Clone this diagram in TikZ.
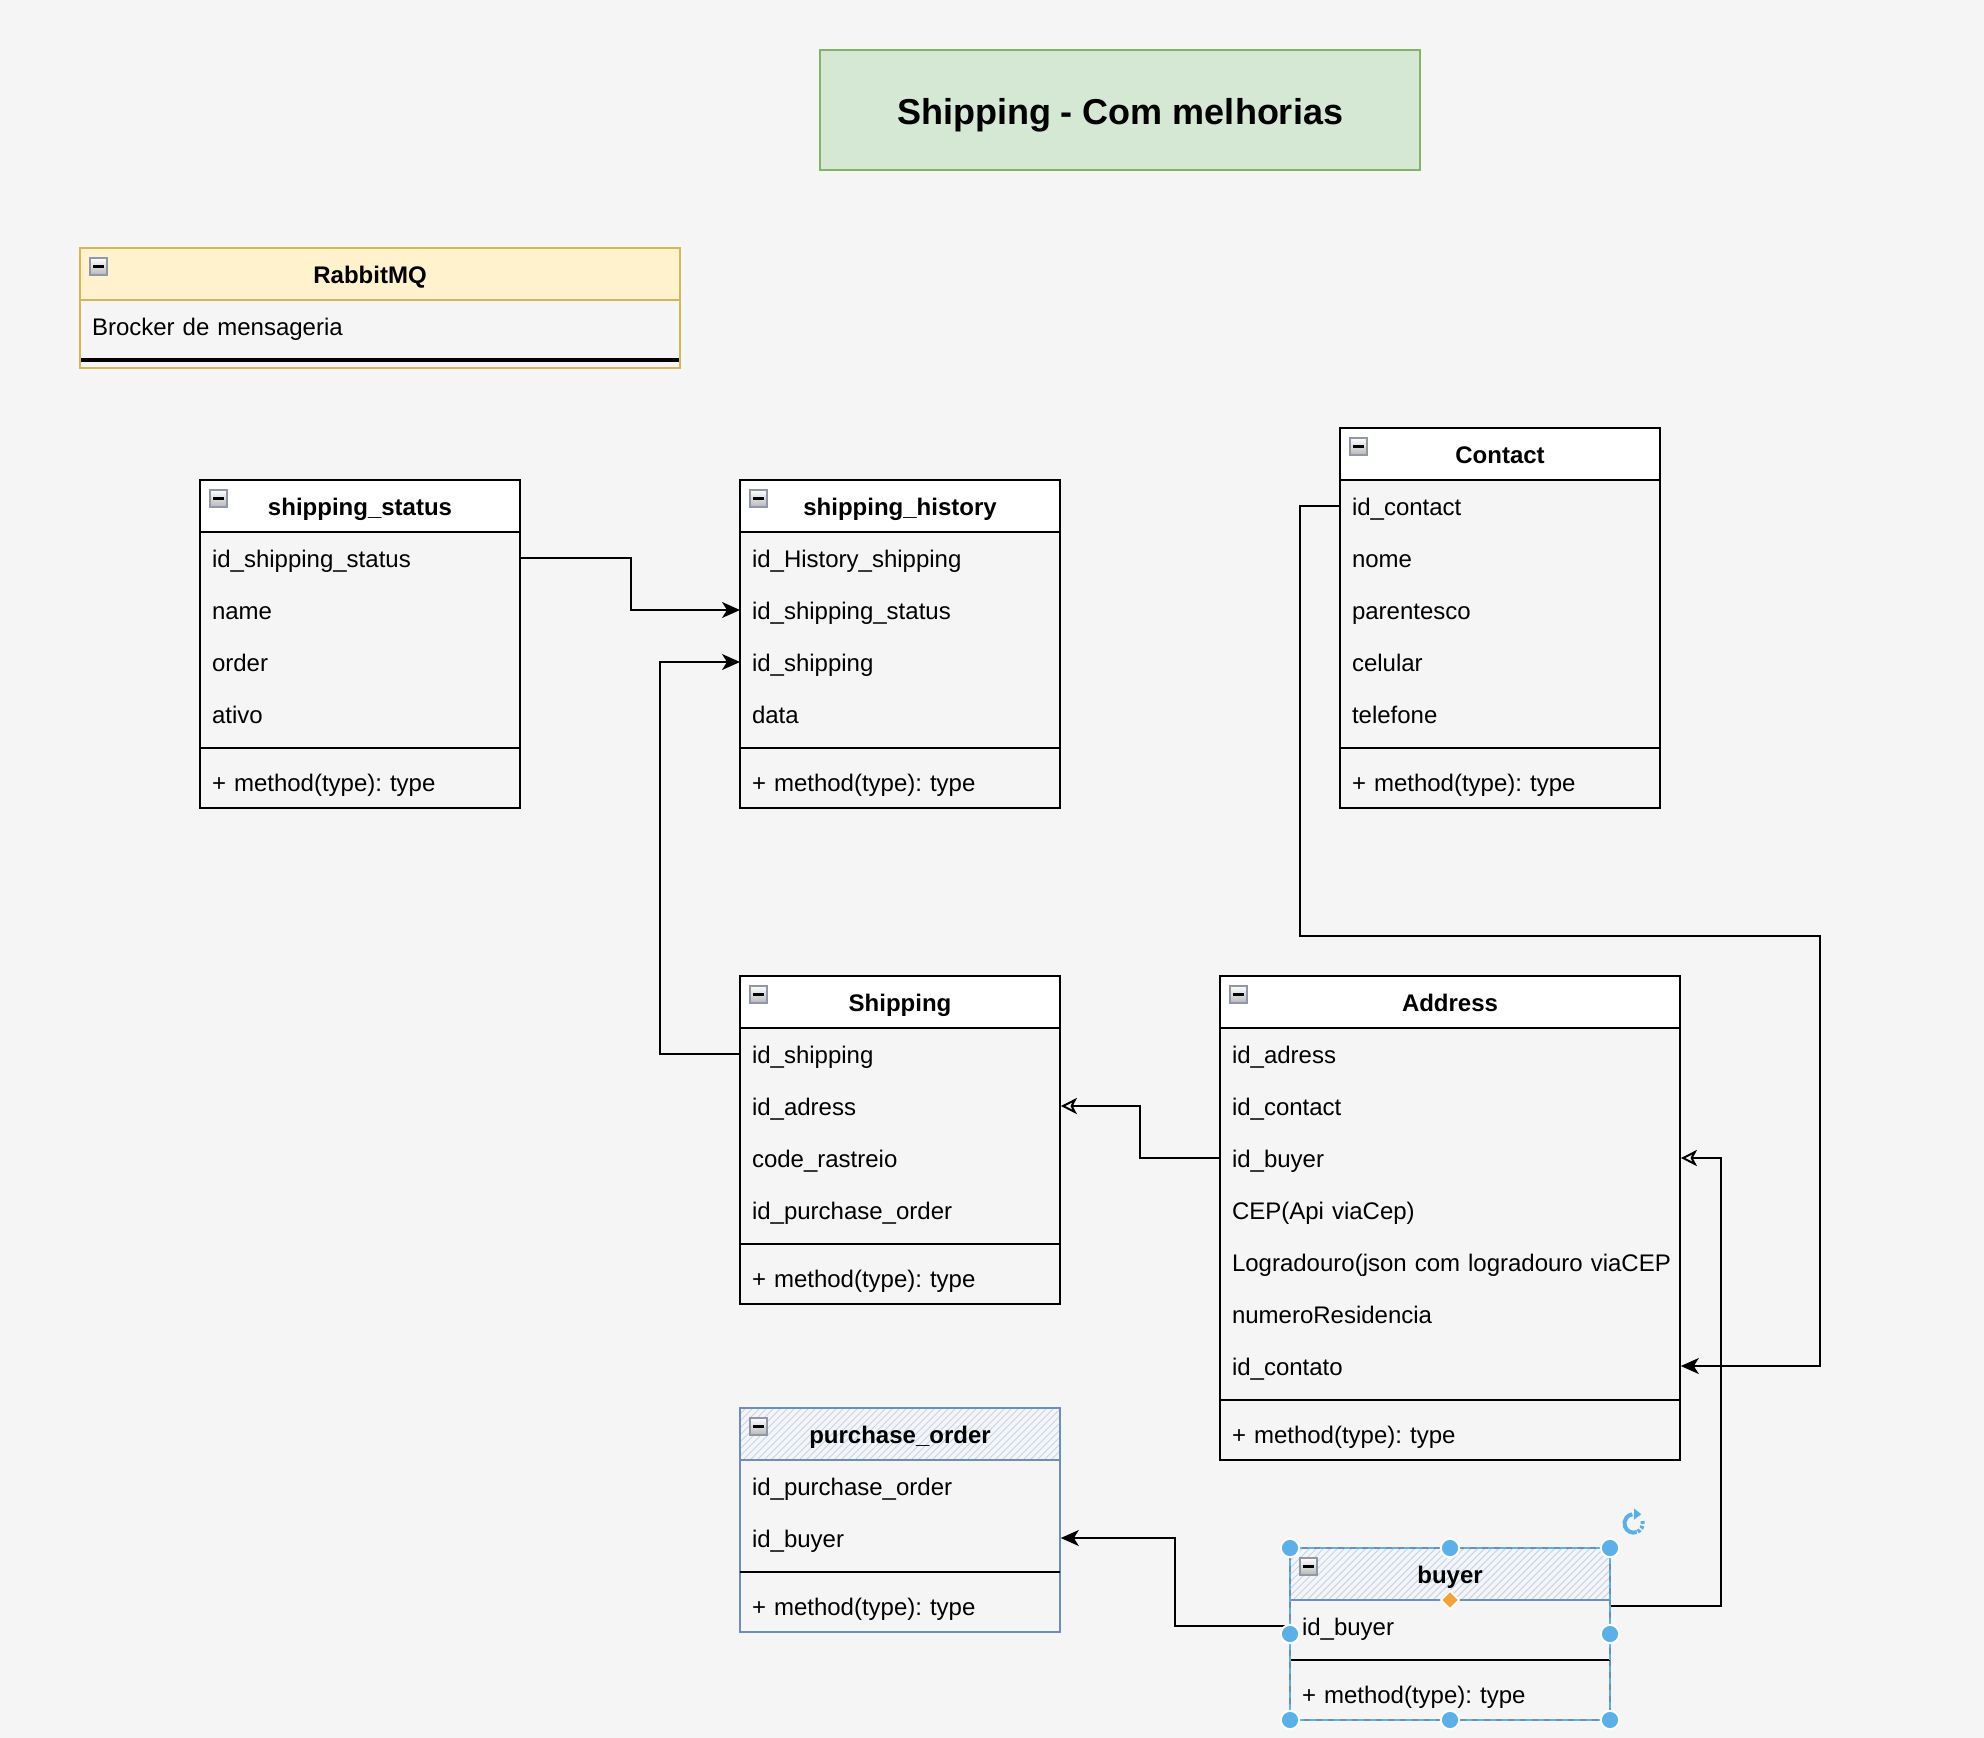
\documentclass[tikz,border=0pt]{standalone}
\usepackage{fontspec}
\setmainfont{Liberation Sans}
\usetikzlibrary{arrows.meta}
\definecolor{bg}{HTML}{F5F5F5}
\definecolor{titlefill}{HTML}{D5E8D4}
\definecolor{titledraw}{HTML}{82B366}
\definecolor{rabfill}{HTML}{FFF2CC}
\definecolor{rabdraw}{HTML}{D6B656}
\definecolor{bluedraw}{HTML}{6C8EBF}
\definecolor{hatchcol}{HTML}{C3D5EE}
\definecolor{selblue}{HTML}{5BB0EA}
\definecolor{selorange}{HTML}{F2A33A}
\definecolor{icongray}{HTML}{9098A8}
\tikzset{
  txt/.style={font=\fontsize{12}{14}\selectfont, text=black, text height=9.5pt, text depth=0pt},
  fld/.style={txt, anchor=west, inner xsep=5.8pt, inner ysep=0pt, minimum height=26pt, align=left},
  hdrtxt/.style={txt, font=\fontsize{12}{14}\selectfont\bfseries, inner sep=0pt},
  blkhead/.style={fill=white},
  bluhead/.style={},
  blkline/.style={draw=black, line width=1pt},
  bluline/.style={draw=bluedraw, line width=1pt},
  rabline/.style={draw=rabdraw, line width=1pt},
  sepline/.style={draw=black, line width=1pt},
  conn/.style={draw=black, line width=1pt},
  arr/.style={-{Stealth[length=9pt,width=8pt,inset=2.5pt]}},
  oarr/.style={-{Stealth[open,length=8pt,width=8pt,inset=2pt]}},
  handle/.style={fill=selblue, draw=white, line width=1pt},
}
\newcommand{\iconbox}[2]{%
  \draw[draw=icongray, top color=white, bottom color=black!28, line width=0.8pt] ({#1+5},{#2+5}) rectangle ++(8.5,8.5);
  \draw[black, line width=1.1pt] ({#1+6.6},{#2+9.25}) -- ++(5.3,0);}
\newcommand{\hatchhead}[3]{%
  \begin{scope}
    \clip (#1,#2) rectangle ++(#3,26);
    \foreach \k in {-30,-26.5,...,#3} \draw[hatchcol, line width=0.5pt] ({#1+\k},{#2+26}) -- ++(26,-26);
  \end{scope}}
% #1 kind, #2 name, #3 x, #4 y, #5 w, #6 n fields, #7 title, #8 fields
\newcommand{\umlclass}[8]{%
  \pgfmathsetmacro\ux{#3}\pgfmathsetmacro\uy{#4}\pgfmathsetmacro\uw{#5}%
  \pgfmathsetmacro\ubot{#4+26+26*#6+8+26}%
  \pgfmathsetmacro\usep{#4+26+26*#6+4}%
  \pgfmathsetlengthmacro\utw{#5-11.6}%
  \path[#1head] (\ux,\uy) rectangle ++(\uw,26);
  \draw[#1line] (\ux,\uy) rectangle ({\ux+\uw},\ubot);
  \draw[#1line] (\ux,{\uy+26}) -- ++(\uw,0);
  \draw[sepline] (\ux,\usep) -- ++(\uw,0);
  \node[hdrtxt] (#2) at ({\ux+\uw/2},{\uy+13}) {#7};
  \foreach \f [count=\i] in {#8} {\node[fld, text width=\utw] (#2-\i) at (\ux,{\uy+13+26*\i}) {\mbox{\f}};}
  \node[fld, text width=\utw] (#2-m) at (\ux,{\ubot-13}) {+ method(type): type};
  \iconbox{\ux}{\uy}}
\begin{document}
\frenchspacing
\begin{tikzpicture}[x=1pt,y=-1pt]
\useasboundingbox (0,0) rectangle (992,869);
\fill[bg] (0,0) rectangle (992,869);

% title
\node[draw=titledraw, fill=titlefill, line width=1pt, minimum width=300pt, minimum height=60pt, inner sep=0pt,
      text height=14.4pt, text depth=0pt,
      font=\fontsize{18}{22}\selectfont\bfseries] (title) at (560,55) {Shipping - Com melhorias};

% RabbitMQ
\fill[rabfill] (40,124) rectangle (340,150);
\draw[rabline] (40,124) rectangle (340,184);
\draw[rabline] (40,150) -- (340,150);
\draw[black, line width=1.7pt] (40.5,180) -- (339.5,180);
\node[hdrtxt] (rabbit) at (185,137) {RabbitMQ};
\node[fld, text width=288.4pt] (rabbit-1) at (40,163) {Brocker de mensageria};
\iconbox{40}{124}

% classes
\umlclass{blk}{ss}{100}{240}{160}{4}{shipping\_status}{id\_shipping\_status,name,order,ativo}
\umlclass{blk}{h}{370}{240}{160}{4}{shipping\_history}{id\_History\_shipping,id\_shipping\_status,id\_shipping,data}
\umlclass{blk}{c}{670}{214}{160}{5}{Contact}{id\_contact,nome,parentesco,celular,telefone}
\umlclass{blk}{s}{370}{488}{160}{4}{Shipping}{id\_shipping,id\_adress,code\_rastreio,id\_purchase\_order}
\umlclass{blk}{a}{610}{488}{230}{7}{Address}{id\_adress,id\_contact,id\_buyer,CEP(Api viaCep),Logradouro(json com logradouro viaCEP,numeroResidencia,id\_contato}
\hatchhead{370}{704}{160}
\umlclass{blu}{po}{370}{704}{160}{2}{purchase\_order}{id\_purchase\_order,id\_buyer}
\hatchhead{645}{774}{160}
\umlclass{blu}{b}{645}{774}{160}{1}{buyer}{id\_buyer}

% connectors
\coordinate (w4) at (910,468);
\draw[conn,arr] (ss-1.east) -- ++(55,0) |- (h-2.west);
\draw[conn,arr] (s-1.west) -- ++(-40,0) |- (h-3.west);
\draw[conn,oarr] (a-3.west) -- ++(-40,0) |- (s-2.east);
\draw[conn,arr] (c-1.west) -- ++(-20,0) |- (w4) |- (a-7.east);
\draw[conn,oarr] ([yshift=-3pt]b-1.north east) -- ++(55,0) |- (a-3.east);
\draw[conn,arr] (b-1.west) -- ++(-57.5,0) |- (po-2.east);

% selection overlay on buyer
\draw[selblue, line width=1pt, dash pattern=on 3pt off 3pt] (645,774) rectangle (805,860);
\foreach \p in {(645,774),(725,774),(805,774),(645,817),(805,817),(645,860),(725,860),(805,860)}
  \filldraw[handle] \p circle (4.6pt);
\filldraw[fill=selorange, draw=white, line width=0.8pt] (725,795.5) -- (729.5,800) -- (725,804.5) -- (720.5,800) -- cycle;
\begin{scope}[shift={(816.8,761.7)}, y=1pt]
  \draw[selblue, line width=2pt, dash pattern=on 1.5pt off 0.9pt] (15:4.6pt) arc (15:-70:4.6pt);
  \draw[selblue, line width=2pt] (-70:4.6pt) arc (-70:-262:4.6pt);
  \fill[selblue] (88:1.8pt) -- (88:7.4pt) -- ++(3.6pt,-2.8pt) -- cycle;
\end{scope}
\end{tikzpicture}
\end{document}
